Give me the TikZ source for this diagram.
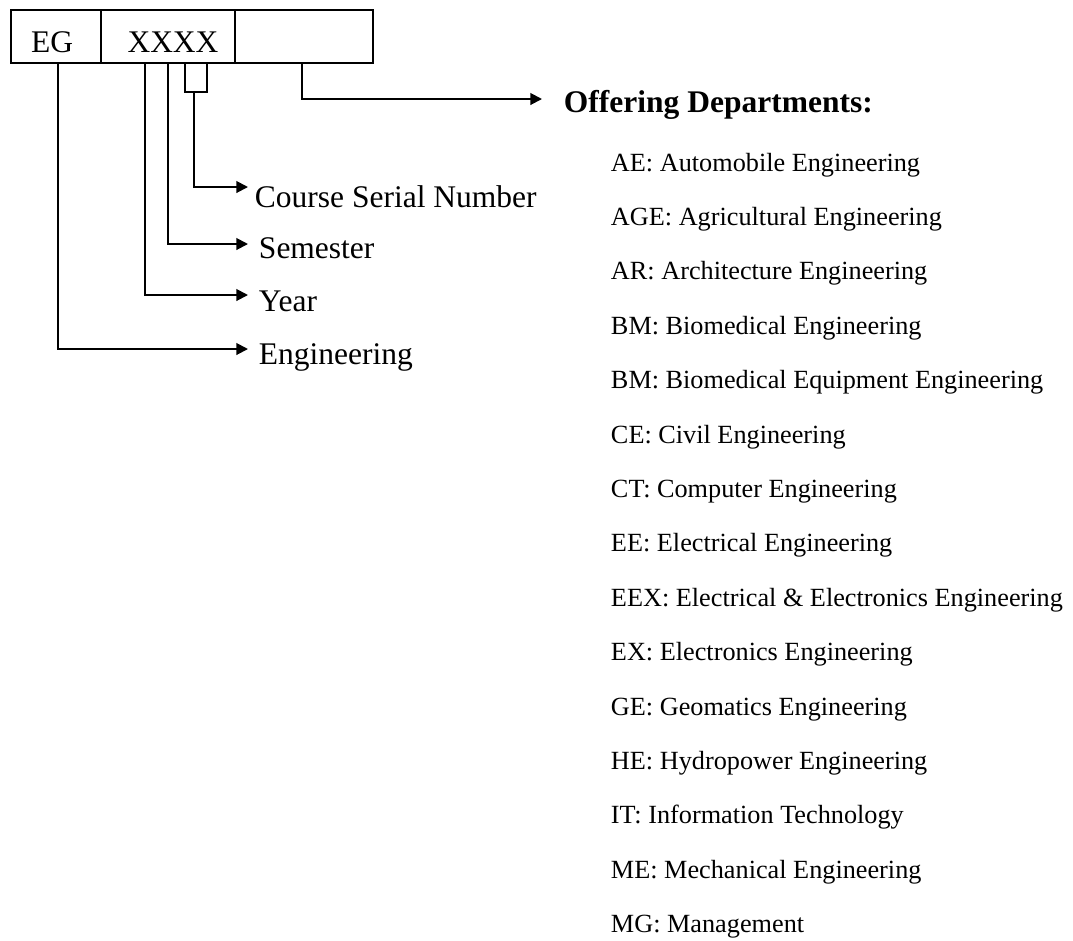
\documentclass[tikz,border=0pt]{standalone}
\usepackage{fontspec}
\setmainfont{Liberation Serif}
\usetikzlibrary{arrows.meta}
\begin{document}
\begin{tikzpicture}[x=0.381pt,y=-0.381pt,line width=0.75pt,
  tip/.style={-{Triangle[length=4.4pt,width=4.4pt]}},
  lbl/.style={anchor=base west,inner sep=0pt,font=\fontsize{12}{14}\selectfont},
  dept/.style={anchor=base west,inner sep=0pt,font=\fontsize{10}{12}\selectfont}]
\useasboundingbox (0,0) rectangle (1073,940);
% code box
\draw (11,10) rectangle (373,63);
\draw (101,10) -- (101,63);
\draw (235,10) -- (235,63);
\node[lbl,anchor=base] (eg) at (52,52) {EG};
\node[lbl,anchor=base] (xxxx) at (173,52) {XXXX};
\draw (185,63) -- (185,92) -- (207,92) -- (207,63);   % serial bracket
% where the connectors leave the box
\coordinate (egB) at (58,63);
\coordinate (yrB) at (145,63);
\coordinate (smB) at (168,63);
\coordinate (csB) at (194,92);
\coordinate (dpB) at (302,63);
% arrow tips
\coordinate (csT) at (248,187);
\coordinate (smT) at (248,244);
\coordinate (yrT) at (248,295);
\coordinate (egT) at (248,349);
\coordinate (dpT) at (542,99);
% labels
\node[lbl] (course) at (254,207) {Course Serial Number};
\node[lbl] (sem) at (258,258) {Semester};
\node[lbl] (year) at (258,311) {Year};
\node[lbl] (engg) at (258,364) {Engineering};
\node[lbl,font={\fontsize{12}{14}\selectfont\bfseries}] (offer) at (563,112) {Offering Departments:};
\draw[tip] (csB) |- (csT);
\draw[tip] (smB) |- (smT);
\draw[tip] (yrB) |- (yrT);
\draw[tip] (egB) |- (egT);
\draw[tip] (dpB) |- (dpT);
% department list
\foreach \code/\name [count=\i from 0] in {AE/Automobile Engineering,
  AGE/Agricultural Engineering, AR/Architecture Engineering,
  BM/Biomedical Engineering, BM/Biomedical Equipment Engineering,
  CE/Civil Engineering, CT/Computer Engineering, EE/Electrical Engineering,
  EEX/Electrical \& Electronics Engineering, EX/Electronics Engineering,
  GE/Geomatics Engineering, HE/Hydropower Engineering,
  IT/Information Technology, ME/Mechanical Engineering, MG/Management}
  \node[dept] (d\i) at (610,{171+54.4*\i}) {\code: \name};
\end{tikzpicture}
\end{document}
